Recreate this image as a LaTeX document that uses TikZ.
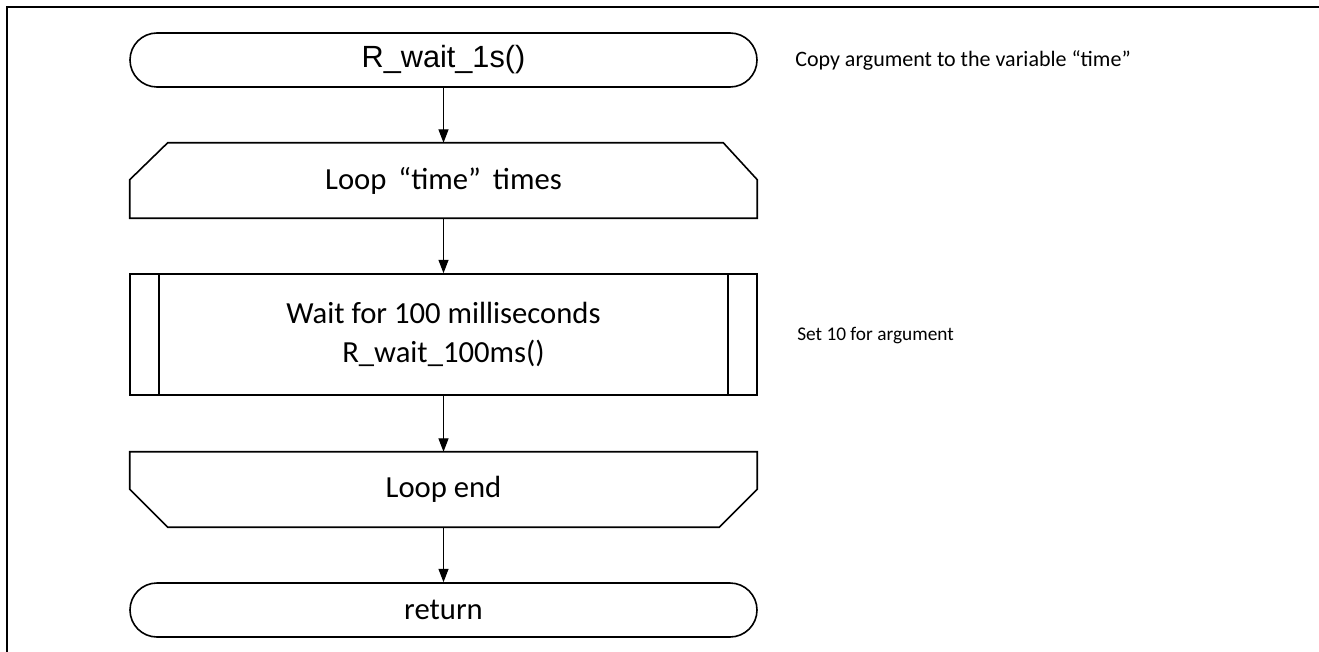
\documentclass[tikz,border=0pt]{standalone}
\usepackage{fontspec}
\setmainfont{Carlito}
\newfontfamily\arialf{Liberation Sans}
\usetikzlibrary{arrows.meta,calc}
\begin{document}
\begin{tikzpicture}[x=0.75pt,y=-0.75pt,
  shapeline/.style={line width=1.2pt},
  blk/.style={minimum width=470.25pt,inner sep=0pt,font=\fontsize{23}{29}\selectfont,align=center},
  term/.style={blk,draw,shapeline,minimum height=40.5pt,rounded corners=20.25pt},
  arr/.style={line width=0.8pt,-{Triangle[width=7.5pt,length=10pt]}},
  note/.style={anchor=west,inner sep=0pt}]
\useasboundingbox (0,0) rectangle (1319,652);
\draw[line width=1.9pt] (7,652) -- (7,7) -- (1319,7);
\node[term] (start) at (443.5,60) {\arialf R\_wait\_1s()};
\node[blk,minimum height=56.25pt] (loop) at (443.5,180.5) {Loop\hspace{9pt}“time”\hspace{9pt}times};
\draw[shapeline] ($(loop.north west)+(38,0)$) -- ($(loop.north east)+(-34,0)$) -- ($(loop.north east)+(0,37)$) -- (loop.south east) -- (loop.south west) -- ($(loop.north west)+(0,37)$) -- cycle;
\node[blk,draw,shapeline,minimum height=90.75pt] (proc) at (443.5,334.5) {Wait for 100 milliseconds\\R\_wait\_100ms()};
\draw[shapeline] ($(proc.north west)+(30,0)$) -- ($(proc.south west)+(30,0)$);
\draw[shapeline] ($(proc.north east)+(-30,0)$) -- ($(proc.south east)+(-30,0)$);
\node[blk,minimum height=56.25pt] (lend) at (443.5,489.5) {Loop end};
\draw[shapeline] (lend.north west) -- (lend.north east) -- ($(lend.south east)+(0,-38)$) -- ($(lend.south east)+(-38,0)$) -- ($(lend.south west)+(38,0)$) -- ($(lend.south west)+(0,-38)$) -- cycle;
\node[term] (ret) at (443.5,610) {return};
\draw[arr] (start) -- (loop);
\draw[arr] (loop) -- (proc);
\draw[arr] (proc) -- (lend);
\draw[arr] (lend) -- (ret);
\node[note,font=\fontsize{16.5}{19}\selectfont] (n1) at (795,60) {Copy argument to the variable “time”};
\node[note,font=\fontsize{14.5}{17}\selectfont] (n2) at (797,336) {Set 10 for argument};
\end{tikzpicture}
\end{document}
